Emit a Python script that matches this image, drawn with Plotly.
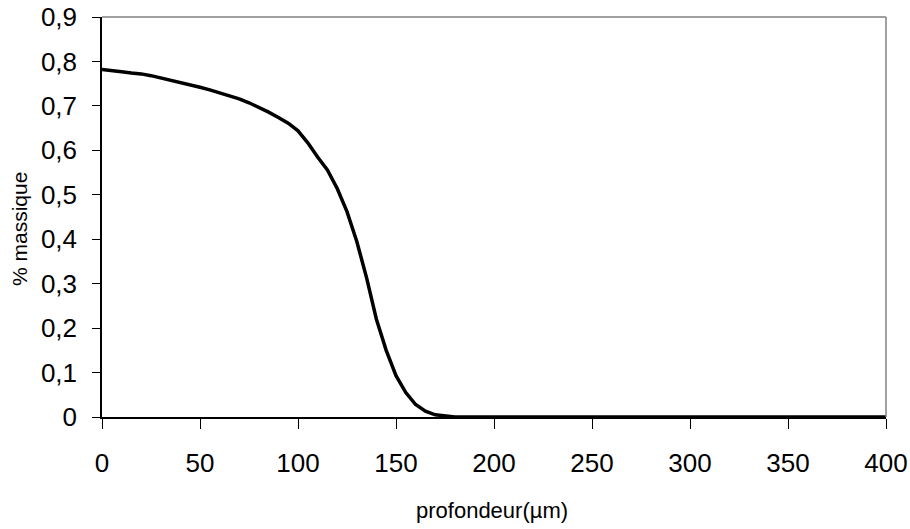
import plotly.graph_objects as go

# Depth profile: mass percentage vs depth (µm)
profondeur = [0, 5, 10, 15, 20, 25, 30, 35, 40, 45, 50, 55, 60, 65, 70, 75, 80, 85,
              90, 95, 100, 105, 110, 115, 120, 125, 130, 135, 140, 145, 150, 155,
              160, 165, 170, 175, 180, 200, 250, 300, 350, 400]
massique = [0.782, 0.780, 0.777, 0.774, 0.772, 0.768, 0.763, 0.758, 0.752, 0.747,
            0.742, 0.736, 0.730, 0.724, 0.716, 0.707, 0.697, 0.686, 0.674, 0.661,
            0.644, 0.617, 0.585, 0.556, 0.514, 0.462, 0.395, 0.313, 0.220, 0.150,
            0.093, 0.055, 0.028, 0.013, 0.005, 0.002, 0.0, 0.0, 0.0, 0.0, 0.0, 0.0]

x_ticks = [0, 50, 100, 150, 200, 250, 300, 350, 400]
y_ticks = [0, 0.1, 0.2, 0.3, 0.4, 0.5, 0.6, 0.7, 0.8, 0.9]
y_labels = ["0", "0,1", "0,2", "0,3", "0,4", "0,5", "0,6", "0,7", "0,8", "0,9"]

FONT = "Liberation Sans, Arial, sans-serif"

fig = go.Figure()
fig.add_trace(go.Scatter(
    x=profondeur, y=massique, mode="lines",
    line=dict(color="black", width=3.5),
    showlegend=False, hoverinfo="skip",
))

fig.update_layout(
    width=910, height=529,
    margin=dict(l=102, r=24, t=17, b=112),
    paper_bgcolor="white", plot_bgcolor="white",
    font=dict(family=FONT, color="black"),
    xaxis=dict(
        range=[0, 400], tickvals=x_ticks, ticktext=[str(v) for v in x_ticks],
        automargin=False,
        showgrid=False, zeroline=False, showline=True, linecolor="black", linewidth=1.5,
        ticks="outside", ticklen=10, tickcolor="black", tickwidth=1,
        tickfont=dict(size=26, family=FONT), ticklabelstandoff=12,
    ),
    yaxis=dict(
        range=[0, 0.9], tickvals=y_ticks, ticktext=y_labels,
        automargin=False,
        showgrid=False, zeroline=False, showline=True, linecolor="black", linewidth=1.5,
        ticks="outside", ticklen=8, tickcolor="black", tickwidth=1,
        tickfont=dict(size=26, family=FONT), ticklabelstandoff=10,
    ),
    shapes=[
        dict(type="line", xref="paper", yref="paper", x0=0, x1=1, y0=1, y1=1,
             line=dict(color="#808080", width=1.5)),
        dict(type="line", xref="paper", yref="paper", x0=1, x1=1, y0=0, y1=1,
             line=dict(color="#808080", width=1.5)),
    ],
    annotations=[
        dict(text="% massique", textangle=-90, xref="paper", yref="paper",
             x=-83 / 784, y=0.47, xanchor="center", yanchor="middle",
             showarrow=False, font=dict(size=21, family=FONT)),
        dict(text="profondeur(µm)", xref="paper", yref="paper",
             x=0.4975, y=-0.235, xanchor="center", yanchor="middle",
             showarrow=False, font=dict(size=22, family=FONT)),
    ],
)

fig.write_html("out.html")
